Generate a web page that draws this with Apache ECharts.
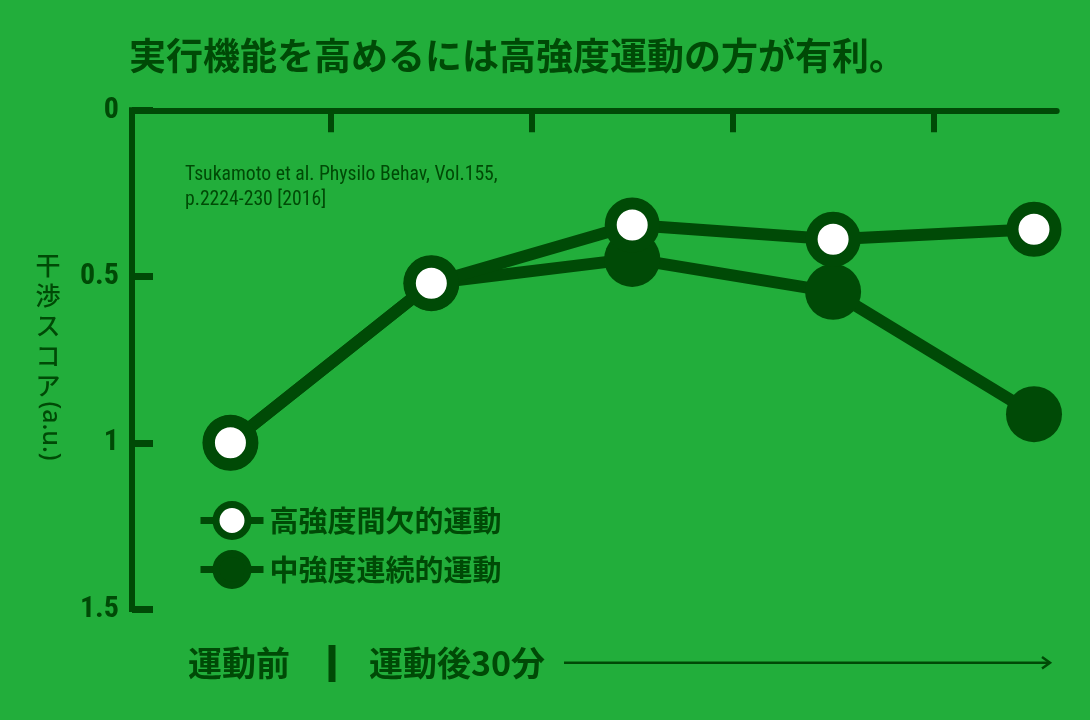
<!DOCTYPE html>
<html><head><meta charset="utf-8">
<script src="https://cdn.jsdelivr.net/npm/echarts@6.0.0/dist/echarts.min.js"></script>
<style>html,body{margin:0;padding:0;background:#22ae3b;} #c{width:1090px;height:720px;}</style>
</head><body><div id="c"></div>
<script>
// ---- data ----
const titleText = '実行機能を高めるには高強度運動の方が有利。';
const seriesNames = ['高強度間欠的運動', '中強度連続的運動'];
const timeIndex = [0, 1, 2, 3, 4];
const highIntensity = [1.0, 0.52, 0.345, 0.388, 0.358];
const moderateIntensity = [1.0, 0.52, 0.447, 0.546, 0.914];
const yTicks = [0, 0.5, 1, 1.5];
const xTickValues = [0.5, 1.5, 2.5, 3.5];
const yAxisNameParts = ['干渉スコア', '(a.u.)'];
const bottomLabels = ['運動前', '運動後30分'];
const citationLines = ['Tsukamoto et al. Physilo Behav, Vol.155,', 'p.2224-230 [2016]'];

// ---- style ----
const BG = '#22ae3b';
const DARK = '#004a06';
const CJK = "'Noto Sans CJK JP', 'Noto Sans', sans-serif";
const NARROW = "'Liberation Sans Narrow', 'Roboto Condensed', 'DejaVu Sans Condensed', Roboto, sans-serif";

const chart = echarts.init(document.getElementById('c'), null, {renderer: 'canvas'});

const pairs = (vals) => timeIndex.map((t, i) => [t, vals[i]]);

const option = {
  backgroundColor: BG,
  animation: false,
  title: {
    text: titleText,
    left: 129, top: 37,
    padding: 0,
    textStyle: {fontSize: 37, fontWeight: 'bold', color: DARK, fontFamily: CJK}
  },
  grid: {left: 132, right: 33.3, top: 110.3, bottom: 111},
  xAxis: {
    type: 'value',
    position: 'top',
    min: -0.49, max: 4.113,
    axisLine: {show: true, onZero: false, lineStyle: {color: DARK, width: 6}},
    axisTick: {show: true, inside: true, length: 22, customValues: xTickValues,
               lineStyle: {color: DARK, width: 6}},
    axisLabel: {show: false},
    splitLine: {show: false}
  },
  yAxis: {
    type: 'value',
    inverse: true,
    min: yTicks[0], max: yTicks[yTicks.length - 1], interval: yTicks[1] - yTicks[0],
    axisLine: {show: true, onZero: false, lineStyle: {color: DARK, width: 6, cap: 'square'}},
    axisTick: {show: true, inside: true, length: 21, lineStyle: {color: DARK, width: 7}},
    axisLabel: {color: DARK, fontSize: 30, fontWeight: 'bold', fontFamily: NARROW, margin: 13},
    splitLine: {show: false}
  },
  legend: {
    orient: 'vertical',
    left: 197, top: 501,
    itemWidth: 63, itemHeight: 40, itemGap: 10,
    padding: 0,
    selectedMode: false,
    textStyle: {fontSize: 29, fontWeight: 'bold', color: DARK, fontFamily: CJK, padding: [0, 0, 0, 1]},
    data: [
      {name: seriesNames[0], itemStyle: {color: '#ffffff', borderColor: DARK, borderWidth: 7},
       lineStyle: {color: DARK, width: 7}},
      {name: seriesNames[1], itemStyle: {color: DARK, borderColor: DARK, borderWidth: 7},
       lineStyle: {color: DARK, width: 7}}
    ]
  },
  series: [
    {
      name: seriesNames[1], type: 'line', data: pairs(moderateIntensity),
      symbol: 'circle', symbolSize: 56,
      itemStyle: {color: DARK, borderWidth: 0},
      lineStyle: {color: DARK, width: 12},
      emphasis: {disabled: true}, z: 2
    },
    {
      name: seriesNames[0], type: 'line', data: pairs(highIntensity),
      symbol: 'circle', symbolSize: 43,
      itemStyle: {color: '#ffffff', borderColor: DARK, borderWidth: 12},
      lineStyle: {color: DARK, width: 12},
      emphasis: {disabled: true}, z: 3
    }
  ],
  graphic: [
    {type: 'text', left: 185, top: 163,
     style: {text: citationLines.join('\n'), fill: DARK, fontSize: 19.7, lineHeight: 25, fontFamily: NARROW}},
    {type: 'text', x: 48, y: 250,
     style: {text: yAxisNameParts[0].split('').join('\n'), fill: DARK, fontSize: 25, lineHeight: 30,
             align: 'center', verticalAlign: 'top', fontFamily: CJK, fontWeight: 500}},
    {type: 'text', x: 50, y: 431, rotation: -Math.PI / 2,
     style: {text: yAxisNameParts[1], fill: DARK, fontSize: 25, align: 'center', verticalAlign: 'middle',
             fontFamily: "'Noto Sans', sans-serif", fontWeight: 500}},
    {type: 'text', x: 188, y: 663,
     style: {text: bottomLabels[0], fill: DARK, fontSize: 34, fontWeight: 'bold', verticalAlign: 'middle', fontFamily: CJK}},
    {type: 'rect', shape: {x: 328.5, y: 645, width: 7, height: 37}, style: {fill: DARK}},
    {type: 'text', x: 369, y: 663,
     style: {text: bottomLabels[1], fill: DARK, fontSize: 34, fontWeight: 'bold', verticalAlign: 'middle', fontFamily: CJK}},
    {type: 'line', shape: {x1: 564, y1: 662.7, x2: 1050, y2: 662.7}, style: {stroke: DARK, lineWidth: 2.5}},
    {type: 'polyline', shape: {points: [[1042, 657], [1050, 662.7], [1042, 668.4]]},
     style: {stroke: DARK, lineWidth: 2.5, fill: null}}
  ]
};
chart.setOption(option);
</script></body></html>
